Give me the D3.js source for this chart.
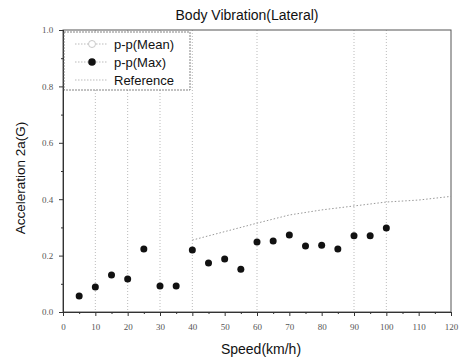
<!DOCTYPE html>
<html>
<head>
<meta charset="utf-8">
<script src="https://cdn.jsdelivr.net/npm/d3@7"></script>
<style>
  body { margin: 0; background: #fff; }
  svg { font-family: Arial, "Liberation Sans", sans-serif; }
</style>
</head>
<body>
<div id="chart"></div>
<script>
var speeds = [5, 10, 15, 20, 25, 30, 35, 40, 45, 50, 55, 60, 65, 70, 75, 80, 85, 90, 95, 100];
var ppMax = [0.057, 0.089, 0.131, 0.117, 0.223, 0.092, 0.092, 0.22, 0.174, 0.188,
             0.152, 0.248, 0.252, 0.273, 0.234, 0.237, 0.223, 0.27, 0.27, 0.298];
var refSpeeds = [40, 50, 60, 70, 80, 90, 100, 110, 120];
var refValues = [0.255, 0.285, 0.315, 0.344, 0.362, 0.376, 0.39, 0.397, 0.41];
var gridSpeeds = [10, 20, 30, 40, 60, 90, 100];
var xTicks = [0, 10, 20, 30, 40, 50, 60, 70, 80, 90, 100, 110, 120];
var yTicks = [0, 0.2, 0.4, 0.6, 0.8, 1.0];

var margin = { top: 30, right: 11, bottom: 49, left: 63 },
  width = 462 - margin.left - margin.right,
  height = 361 - margin.top - margin.bottom;

var svg = d3.select("#chart")
  .append("svg")
  .attr("width", 462)
  .attr("height", 361)
  .append("g")
  .attr("transform", "translate(" + margin.left + "," + margin.top + ")");

var x = d3.scaleLinear().domain([0, 120]).range([0, width]);
var y = d3.scaleLinear().domain([0, 1.0]).range([height, 0]);

// faint dotted grid lines
svg.selectAll(".grid")
  .data(gridSpeeds)
  .enter()
  .append("line")
  .attr("x1", function (d) { return x(d) })
  .attr("x2", function (d) { return x(d) })
  .attr("y1", 0)
  .attr("y2", height)
  .attr("stroke", "#aaa")
  .attr("stroke-width", 0.8)
  .attr("stroke-dasharray", "1,2");

// frame
svg.append("rect")
  .attr("width", width)
  .attr("height", height)
  .attr("fill", "none")
  .attr("stroke", "#555")
  .attr("stroke-width", 1);

var xAxis = svg.append("g")
  .attr("transform", "translate(0," + height + ")")
  .call(d3.axisBottom(x).tickValues(xTicks).tickSize(4).tickFormat(d3.format("d")));
var xMinor = svg.append("g")
  .attr("transform", "translate(0," + height + ")")
  .call(d3.axisBottom(x).tickValues(d3.range(5, 120, 10)).tickSize(2).tickFormat(""));

var yAxis = svg.append("g")
  .call(d3.axisLeft(y).tickValues(yTicks).tickSize(4).tickFormat(d3.format(".1f")));
var yMinor = svg.append("g")
  .call(d3.axisLeft(y).tickValues(d3.range(0.1, 1.0, 0.2)).tickSize(2).tickFormat(""));

[xAxis, xMinor, yAxis, yMinor].forEach(function (g) {
  g.select(".domain").attr("stroke", "#333");
  g.selectAll(".tick line").attr("stroke", "#333");
  g.selectAll(".tick text").attr("fill", "#555").style("font-size", "9px")
    .style("font-family", "'Times New Roman', 'Liberation Serif', serif");
});
xAxis.selectAll(".tick text").attr("dy", "1.2em");
yAxis.selectAll(".tick text").attr("dx", "-0.3em");

// reference line
svg.append("path")
  .datum(refSpeeds)
  .attr("fill", "none")
  .attr("stroke", "#999")
  .attr("stroke-width", 1)
  .attr("stroke-dasharray", "1.5,2")
  .attr("d", d3.line()
    .x(function (d) { return x(d) })
    .y(function (d, i) { return y(refValues[i]) }));

// p-p(Max) points
svg.selectAll(".max")
  .data(speeds)
  .enter()
  .append("circle")
  .attr("cx", function (d) { return x(d) })
  .attr("cy", function (d, i) { return y(ppMax[i]) })
  .attr("r", 3.5)
  .attr("fill", "#111");

// legend
var legend = svg.append("g").attr("transform", "translate(1,2)");
legend.append("rect")
  .attr("width", 126)
  .attr("height", 58)
  .attr("fill", "#fff")
  .attr("stroke", "#666")
  .attr("stroke-width", 0.8)
  .attr("stroke-dasharray", "2,1");

var legendItems = ["p-p(Mean)", "p-p(Max)", "Reference"];
legendItems.forEach(function (name, i) {
  var ly = 12 + i * 18;
  legend.append("line")
    .attr("x1", 11).attr("x2", 44)
    .attr("y1", ly).attr("y2", ly)
    .attr("stroke", "#aaa")
    .attr("stroke-width", 0.8)
    .attr("stroke-dasharray", "1.5,1.5");
  if (i == 0) {
    legend.append("circle").attr("cx", 28).attr("cy", ly).attr("r", 3.5)
      .attr("fill", "#fff").attr("stroke", "#bbb").attr("stroke-width", 0.8);
  } else if (i == 1) {
    legend.append("circle").attr("cx", 28).attr("cy", ly).attr("r", 3.8).attr("fill", "#111");
  }
  legend.append("text")
    .attr("x", 50)
    .attr("y", ly + 4.5)
    .attr("fill", "#111")
    .style("font-size", "13px")
    .text(name);
});

// title and axis labels
d3.select("svg").append("text")
  .attr("x", 247).attr("y", 20)
  .attr("text-anchor", "middle")
  .attr("fill", "#111")
  .style("font-size", "14px")
  .text("Body Vibration(Lateral)");

d3.select("svg").append("text")
  .attr("x", 261).attr("y", 354)
  .attr("text-anchor", "middle")
  .attr("fill", "#111")
  .style("font-size", "14px")
  .text("Speed(km/h)");

d3.select("svg").append("text")
  .attr("transform", "translate(25,178) rotate(-90)")
  .attr("text-anchor", "middle")
  .attr("fill", "#111")
  .style("font-size", "13.5px")
  .text("Acceleration 2a(G)");
</script>
</body>
</html>
